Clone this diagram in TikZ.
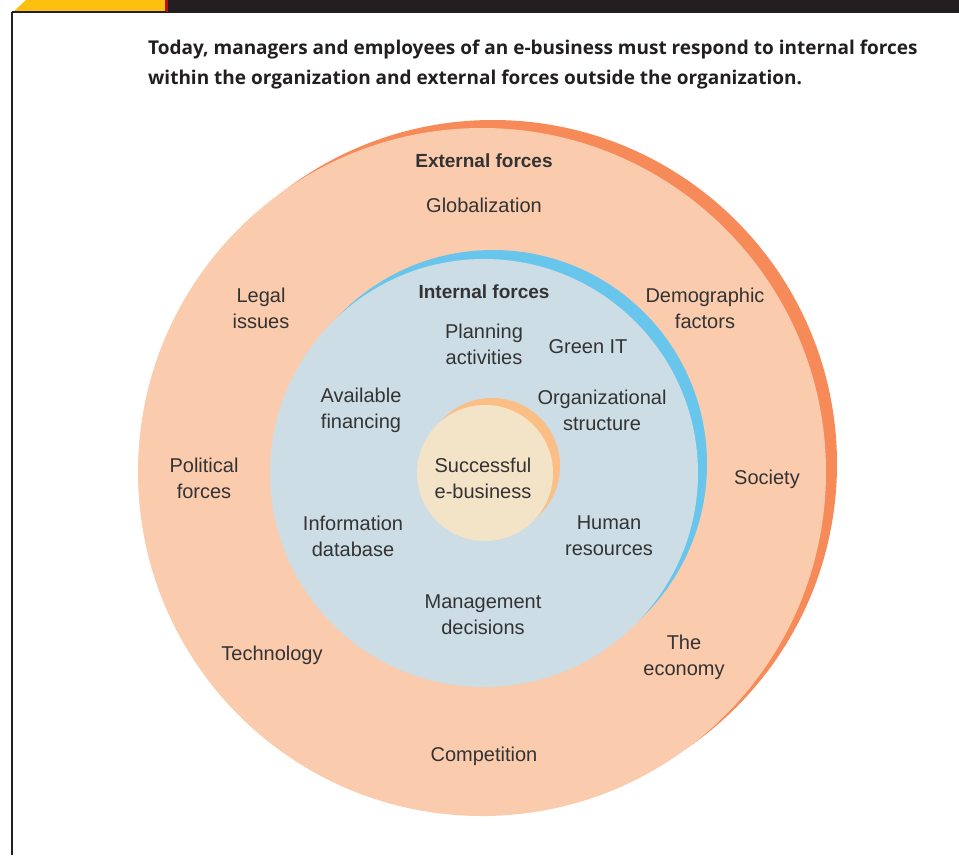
\documentclass[tikz,border=0pt]{standalone}
\usepackage{fontspec}
\setmainfont{Liberation Sans}
\newfontfamily\titlefont{Open Sans}
\definecolor{peach}{HTML}{FBCBAD}
\definecolor{darkorange}{HTML}{F68B59}
\definecolor{paleblue}{HTML}{CCDDE5}
\definecolor{skyblue}{HTML}{68C5EC}
\definecolor{cream}{HTML}{F3E4C8}
\definecolor{lightorange}{HTML}{FBBF85}
\definecolor{txt}{HTML}{333333}
\definecolor{tabyellow}{HTML}{FDC010}
\definecolor{tabred}{HTML}{B5121B}
\definecolor{barblack}{HTML}{231F20}
\begin{document}
\begin{tikzpicture}[x=1pt,y=-1pt,
  lbl/.style={text=txt,align=center,inner sep=0pt,font=\fontsize{20}{26}\selectfont},
  head/.style={lbl,font=\fontsize{19}{26}\selectfont\bfseries},
  titleline/.style={text=barblack,anchor=base west,inner sep=0pt,font=\titlefont\fontsize{19}{30}\selectfont\bfseries}]
\useasboundingbox (0,0) rectangle (959,855);
% frame
\fill[barblack] (166,0) rectangle (959,12.5);
\fill[tabyellow] (13,12) -- (26,0) -- (165,0) -- (165,12) -- cycle;
\fill[tabred] (164.5,0) rectangle (168,12);
\draw[barblack,line width=1.2pt] (12,12) -- (166,12);
\draw[barblack,line width=2pt] (12,11.5) -- (12,855);
% title
\node[titleline] (title1) at (148,54) {Today, managers and employees of an e-business must respond to internal forces};
\node[titleline] (title2) at (148,84) {within the organization and external forces outside the organization.};
% circles
\fill[darkorange] (493,464) circle (344);
\fill[peach] (482,472) circle (344);
\fill[skyblue] (493,464) circle (214);
\fill[paleblue] (484,473) circle (214);
\fill[lightorange] (492,466) circle (68);
\fill[cream] (485,473) circle (68);
% external labels
\node[head] (ext) at (484,161) {External forces};
\node[lbl] (glob) at (484,205) {Globalization};
\node[lbl] (legal) at (261,308) {Legal\\issues};
\node[lbl] (demo) at (705,308) {Demographic\\factors};
\node[lbl] (pol) at (204,478) {Political\\forces};
\node[lbl] (soc) at (767,479) {Society};
\node[lbl] (tech) at (272,655) {Technology};
\node[lbl] (econ) at (684,657) {The\\economy};
\node[lbl] (comp) at (484,756) {Competition};
% internal labels
\node[head] (int) at (484,292) {Internal forces};
\node[lbl] (plan) at (484,344) {Planning\\activities};
\node[lbl] (green) at (588,347) {Green IT};
\node[lbl] (fin) at (361,410) {Available\\financing};
\node[lbl] (org) at (602,410) {Organizational\\structure};
\node[lbl] (succ) at (483,478) {Successful\\e-business};
\node[lbl] (info) at (353,536) {Information\\database};
\node[lbl] (hr) at (609,536) {Human\\resources};
\node[lbl] (mgmt) at (483,615) {Management\\decisions};
\end{tikzpicture}
\end{document}
